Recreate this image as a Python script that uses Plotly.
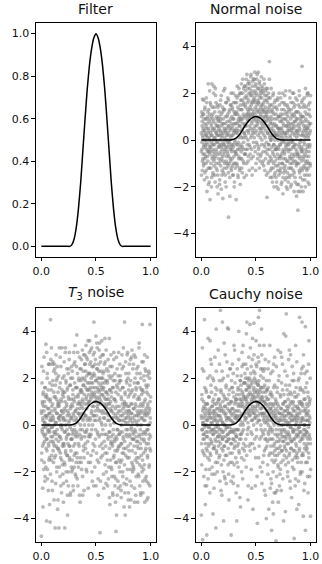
import numpy as np
import plotly.graph_objects as go

# Filter curve
filter_x = [0.00, 0.02, 0.04, 0.06, 0.08, 0.10, 0.12, 0.14, 0.16, 0.18, 0.20, 0.22, 0.24, 0.26,
            0.28, 0.30, 0.32, 0.34, 0.36, 0.38, 0.40, 0.42, 0.44, 0.46, 0.48, 0.50,
            0.52, 0.54, 0.56, 0.58, 0.60, 0.62, 0.64, 0.66, 0.68, 0.70, 0.72,
            0.74, 0.76, 0.78, 0.80, 0.82, 0.84, 0.86, 0.88, 0.90, 0.92, 0.94, 0.96, 0.98, 1.00]
filter_y = [0, 0, 0, 0, 0, 0, 0, 0, 0, 0, 0, 0, 0, 0,
            0.008, 0.035, 0.09, 0.18, 0.30, 0.45, 0.60, 0.74, 0.85, 0.93, 0.98, 1.0,
            0.98, 0.93, 0.85, 0.74, 0.60, 0.45, 0.30, 0.18, 0.09, 0.035, 0.008,
            0, 0, 0, 0, 0, 0, 0, 0, 0, 0, 0, 0, 0, 0]

# Noisy observations (filter + noise), each list ordered along x from 0 to 1
normal_y_a = [
    0.3, -1.5, 1.2, -0.4, 0.8, -0.9, 1.75, 0.1, -0.6, 0.5, -1.1, 1.1, -0.2, 0.9, -1.7, 0.4, -0.8, 1.4, 0.0, -0.3,
    -0.7, 0.6, -1.3, 0.2, 1.6, -0.1, -2.2, 0.7, -0.5, 1.0, -0.9, 0.3, -1.9, 0.5, 1.3, -0.4, 0.1, -1.2, 2.1, -0.6,
    -2.55, 0.9, -0.3, 1.5, -1.0, 0.2, 0.6, -1.6, 2.4, -0.2, 0.4, -0.7, 1.1, -1.4, 0.0, 0.8, -0.5, 2.3, -1.1, 0.5,
    1.4, -0.8, 0.1, -1.8, 0.7, 1.9, -0.4, 0.3, -1.2, 1.0, -0.1, 0.6, -2.0, 0.2, 1.5, -0.6, -1.5, 0.9, -0.3, 0.4,
    -1.0, 0.5, 1.2, -0.2, -1.7, 0.8, 0.0, -0.9, 1.7, -0.5, 0.3, -2.1, 1.1, -0.3, 0.6, -1.3, 0.2, 1.4, -0.7, -0.1,
    0.9, -1.4, 2.1, -0.6, 0.4, -0.2, 1.3, -1.0, 0.1, -1.8, 0.7, -0.4, 1.6, 0.3, -0.9, 0.5, -1.2, 0.0, 1.0, -0.5,
    -0.3, 1.8, -1.1, 0.6, -3.3, 0.2, -0.7, 1.2, -0.1, 0.8, -1.6, 0.4, -0.4, 1.5, -0.9, 0.1, 2.0, -1.3, 0.7, -0.2,
    0.5, -0.8, 1.3, -1.5, 0.2, 0.9, -0.3, 1.6, -1.0, 0.4, -2.0, 0.7, -0.5, 1.1, 0.0, -1.2, 1.9, -0.6, 0.3, -2.55,
    1.2, -0.6, 0.4, 1.8, -1.1, 0.7, -0.2, 1.4, -1.6, 0.9, 0.1, -0.8, 2.2, -0.4, 0.6, -1.3, 1.0, 0.2, -1.9, 1.5,
    0.8, 2.0, -0.5, 1.3, 0.1, -1.2, 1.7, 0.5, -0.3, 2.6, 0.9, -0.9, 1.1, -0.1, 1.6, 0.3, -1.6, 2.3, 0.6, -0.6,
    1.5, 0.2, 2.1, -0.4, 1.0, 2.6, 0.6, -1.0, 1.8, 0.9, -0.2, 1.3, 2.4, 0.0, 1.1, -0.7, 1.7, 0.4, 2.0, -1.3,
    0.9, 2.2, 1.4, -0.3, 1.9, 0.5, 2.7, 1.1, -0.8, 1.6, 0.2, 2.1, 0.8, -1.2, 1.3, 2.5, 0.3, 1.7, -0.1, 1.0,
    1.2, 2.0, 0.1, 1.7, 2.9, 0.6, -0.5, 1.4, 2.3, 0.9, -1.0, 1.9, 0.4, 2.6, 1.0, -0.2, 1.5, 0.7, 2.2, -0.6,
    2.9, 0.8, 1.6, -0.3, 1.2, 2.4, 0.3, 1.9, -0.9, 1.0, 2.1, 0.5, 1.4, -0.6, 2.7, 0.7, 1.8, 0.0, 1.3, 2.2,
    0.6, 1.5, -0.5, 2.0, 0.9, -1.1, 1.3, 0.2, 2.4, 0.7, -0.3, 1.7, 1.0, -0.8, 2.1, 0.4, 1.2, -1.5, 0.8, 1.9,
    -2.45, 0.9, 1.6, -0.4, 0.3, 1.2, -1.0, 2.0, 0.5, -0.2, 1.4, 3.35, 0.1, -0.7, 1.8, 0.7, -1.3, 1.0, 0.0, 2.2,
    0.4, -0.9, 1.3, -1.6, 0.7, 0.1, -0.5, 1.9, -1.2, 0.6, -0.2, 1.1, -2.0, 0.3, 1.6, -0.7, 0.9, -1.4, 0.2, -0.4,
    -1.1, 0.6, -0.3, 1.4, -1.8, 0.2, 0.9, -0.6, 1.7, -1.3, 0.0, 0.5, -2.1, 1.0, -0.4, 0.3, -1.0, 1.5, -0.2, 0.8,
    0.5, -1.4, 1.1, -0.7, 0.2, -1.9, 0.8, -0.1, 1.6, -1.0, 0.4, -0.5, 2.0, -1.6, 0.7, 0.0, -0.8, 1.3, -1.2, 0.3,
    -0.6, 1.9, -1.1, 0.3, -1.7, 0.9, -0.3, 1.2, -2.0, 0.6, -0.9, 0.1, 1.5, -1.4, 0.4, -0.2, 1.0, -1.8, 0.7, -0.5,
    1.3, -0.4, 0.6, -1.5, 2.1, -0.8, 0.2, -1.2, 0.9, -0.1, 1.6, -1.9, 0.4, -0.6, 1.1, -1.0, 0.0, 2.0, -0.3, 0.7,
    -1.3, 0.5, -0.7, 1.4, -2.2, 0.8, -0.2, 1.0, -1.6, 0.3, -0.9, 1.8, -0.4, 0.6, -1.1, 0.1, 1.2, -1.9, 0.4, -0.6,
    0.9, -3.0, -2.2, 0.2, 1.5, -1.0, 0.6, -0.3, 1.9, -1.4, 0.4, -0.7, -2.2, 1.1, 0.0, -1.2, 0.8, -0.5, 1.6, -0.9,
    3.15, -0.4, 1.0, -1.7, 0.3, -0.8, 1.4, -1.2, 0.6, -0.1, 1.8, -1.5, 0.5, -0.6, 1.2, -2.0, 0.2, 0.9, -1.0, 0.4,
    -0.7, 1.1, -1.3, 0.5, 2.0, -0.3, 0.8, -1.8, 0.1, 1.5, -1.0, 0.6, -0.5, 1.3, -1.5, 0.3, -0.2, 1.0, -1.1, 0.7,
]
normal_y_b = [
    -0.5, 1.0, -0.1, 0.6, -1.3, 0.2, 1.1, -0.8, 0.4, -0.3, 1.7, -1.0, 0.0, 0.7, -0.6, 1.3, -1.4, 0.3, -0.2, 0.9,
    0.2, -1.0, 1.8, -0.4, 0.5, -1.6, 0.9, 0.1, -0.7, 1.2, -0.2, 2.4, -1.2, 0.4, -0.5, 0.8, -1.8, 0.0, 1.1, -0.3,
    1.6, -0.5, 0.3, -1.2, 0.7, -0.1, -2.0, 1.0, 0.2, -0.8, 1.4, -0.4, 0.5, -1.5, 0.9, -0.2, 2.0, -0.9, 0.1, -0.6,
    -0.2, 1.2, -1.5, 0.4, 2.2, -0.7, 0.0, 1.6, -1.0, 0.3, -0.5, 0.9, -1.3, 0.6, -0.1, 1.4, -2.3, 0.2, 0.8, -0.8,
    0.6, -0.3, 1.0, -1.9, 0.2, 1.5, -0.6, 0.4, -1.1, 0.9, -0.2, 1.9, -0.8, 0.1, -1.5, 0.7, -0.4, 1.2, -2.5, 0.3,
    -0.9, 0.7, -0.2, 1.3, -1.2, 0.5, -0.5, 2.2, 0.0, -1.5, 1.0, -0.3, 0.4, -2.0, 1.6, -0.7, 0.2, -1.0, 0.8, -0.1,
    1.1, -0.6, 0.3, -1.4, 1.7, -0.2, 0.6, -1.0, 0.0, 1.3, -2.4, 0.5, -0.8, 0.9, -0.3, 1.5, -1.2, 0.2, -0.5, 1.0,
    -0.4, 1.4, -1.1, 0.6, -0.2, 2.0, -1.5, 0.3, 0.9, -0.7, 1.2, -1.8, 0.4, -0.1, 1.6, -1.0, 0.7, -0.5, 1.1, -0.2,
    0.5, 1.6, -1.0, 0.3, 2.3, -0.4, 1.1, -1.5, 0.8, -0.1, 1.9, -0.7, 0.4, 1.3, -1.2, 0.6, 2.0, -0.3, 0.9, -0.8,
    1.7, -0.2, 0.9, 2.4, -0.8, 1.3, 0.4, -1.4, 2.0, 0.7, -0.4, 1.5, 0.1, 2.2, -1.0, 1.0, 0.3, -0.6, 1.8, 0.6,
    0.7, 2.3, -0.6, 1.4, 0.1, 1.9, -1.5, 1.1, 2.8, 0.4, -0.4, 1.6, 0.8, 2.2, -0.9, 1.2, 0.3, 2.5, 1.0, -0.2,
    2.4, 0.6, 1.3, -0.6, 2.0, 1.0, 0.1, 2.8, 1.5, -0.4, 0.7, 1.9, -1.5, 1.1, 2.3, 0.4, 1.6, -0.7, 2.6, 0.9,
    0.5, 1.8, 2.6, -0.3, 1.1, 2.1, 0.3, 1.6, -1.3, 2.4, 0.8, 1.3, -0.1, 2.0, 0.6, 2.8, 1.2, -0.8, 1.7, 0.2,
    1.6, -0.4, 2.2, 0.9, 1.3, -1.2, 2.5, 0.5, 1.8, 0.1, -0.7, 1.1, 2.0, 0.4, 1.5, -0.2, 2.3, 0.8, -1.0, 1.2,
    2.1, 0.3, 1.0, -0.9, 1.6, 0.5, 2.6, -0.2, 1.2, 0.8, -1.3, 1.9, 0.1, 1.4, -0.5, 2.2, 0.6, 1.1, -0.1, 1.7,
    1.0, -0.6, 2.2, 0.3, -1.4, 1.3, 0.6, -0.2, 1.8, -0.9, 0.9, 2.6, -0.4, 0.2, 1.5, -1.6, 0.8, 0.0, 1.2, -0.8,
    -1.2, 0.5, 1.5, -0.3, 0.9, -1.8, 0.2, 1.2, -0.6, 2.0, -1.0, 0.4, -0.2, 1.4, -1.5, 0.7, 0.0, -0.9, 1.7, -0.4,
    0.3, -1.6, 1.1, -0.4, 0.6, -2.0, 1.3, -0.8, 0.2, 1.8, -1.1, 0.5, -0.3, 1.0, -1.5, 0.4, 2.0, -0.7, 0.1, -1.3,
    -0.8, 1.0, -0.2, 1.8, -1.2, 0.5, -0.6, 1.3, -1.8, 0.3, 0.9, -1.0, 0.1, -2.3, 1.1, -0.4, 0.6, -1.4, 1.6, -0.1,
    0.9, -0.5, 1.5, -1.3, 0.2, -0.8, 2.1, -0.2, 0.6, -1.6, 1.1, -0.4, 0.3, -2.1, 0.8, -0.9, 1.4, -0.1, -1.2, 0.5,
    -0.2, 1.2, -1.6, 0.4, -0.7, 1.8, -1.0, 0.1, -2.0, 0.7, -0.4, 1.3, -1.2, 0.5, -0.8, 1.0, -1.5, 0.3, -0.1, 1.6,
    0.6, -0.9, 2.0, -0.3, 1.1, -1.4, 0.2, -0.6, 1.5, -1.8, 0.8, -0.2, 1.2, -1.0, 0.4, -2.4, 0.9, -0.5, 1.7, -0.7,
    -1.0, 0.3, -0.6, 1.2, -1.9, 0.7, -0.2, 2.1, -1.3, 0.5, -0.8, 1.4, -0.1, -1.6, 0.9, -0.4, 1.0, -2.0, 0.2, -0.3,
    0.7, -1.3, 1.7, -0.5, 0.2, -2.2, 1.0, -0.7, 0.4, -1.1, 1.5, -0.2, 0.8, -1.7, 0.1, -0.9, 2.2, -0.4, 0.6, -1.2,
    1.4, -0.5, 0.3, -1.5, 1.9, -0.9, 0.5, -0.2, 2.0, -1.2, 0.2, -0.7, 1.1, -1.9, 0.7, -0.3, 1.6, -1.0, 0.4, 1.9,
]

t3_y_a = [
    -4.75, 0.5, -1.2, 1.8, -0.3, 0.9, -2.7, 0.2, 1.3, -0.8, 2.3, -0.1, 0.6, -1.6, 1.0, -0.5, 0.1, -2.2, 1.6, -0.4,
    0.8, 3.45, -1.0, 0.3, -4.1, 1.2, -0.6, 2.0, -1.9, 0.4, -0.2, 1.5, -2.8, 0.7, -0.9, 0.0, 2.6, -1.4, 0.5, -0.3,
    -4.15, 1.1, 4.5, -0.7, 0.2, -1.5, 3.3, 0.6, -0.1, -2.4, 1.7, -0.5, 0.9, 2.7, -1.1, 0.3, -0.8, 1.4, -3.2, 0.0,
    2.6, -0.4, 0.7, -4.4, 1.2, -1.3, 2.2, 0.1, -0.6, 1.9, -2.0, 0.5, -0.2, 2.5, -1.0, 0.8, -3.2, 1.0, -0.7, 0.3,
    -4.4, 0.9, -1.8, 1.6, 0.2, -0.5, 2.9, -1.2, 0.4, -2.6, 1.1, -0.1, 0.6, -1.5, 3.3, 0.0, -0.9, 1.3, -2.1, 0.5,
    1.4, -3.3, 0.3, -0.8, 2.1, -1.6, 0.7, -4.4, 1.0, -0.3, 3.3, -1.1, 0.2, 1.8, -0.6, -2.4, 0.9, -0.2, 1.5, -1.3,
    -3.85, 0.6, -0.4, 1.2, -2.0, 0.1, 2.4, -0.9, 3.1, -1.4, 0.4, -0.1, 1.7, -2.9, 0.8, -0.6, 1.1, -1.8, 0.3, -0.2,
    0.9, -1.5, 2.0, -0.4, 1.3, -2.6, 0.5, -0.9, 3.1, 0.2, -1.8, 1.0, -0.2, 2.7, -1.2, 0.6, -0.5, 1.6, -2.2, 0.3,
    1.6, -0.3, 3.85, 0.7, -1.4, 2.2, 0.1, -2.6, 1.2, 0.5, -0.8, 1.9, -1.6, 0.9, 2.9, -0.4, 0.4, -3.3, 1.4, 0.0,
    0.9, 2.4, -0.6, 1.5, -1.9, 0.5, 2.0, -0.2, 1.1, -3.0, 0.7, 1.7, -0.9, 3.0, 0.3, -1.4, 1.3, 0.0, 2.6, -0.5,
    1.9, 0.4, -1.0, 2.3, 1.1, -0.3, 2.9, 0.7, -2.0, 1.5, 0.2, 1.8, -0.7, 3.6, 0.9, -1.6, 1.3, 0.0, 2.2, -0.4,
    1.0, 2.6, -0.5, 1.6, 0.3, 3.2, 1.2, -1.3, 2.0, 0.6, -0.2, 1.4, 2.5, -2.4, 0.8, 1.8, -0.8, 3.0, 0.4, 1.2,
    4.4, 1.3, 0.2, 2.1, -0.9, 1.6, 0.6, 2.8, -0.2, 1.0, -2.6, 1.9, 0.4, 3.5, 1.1, -1.5, 2.4, 0.7, -0.4, 1.5,
    -3.0, 1.8, 0.6, 2.3, -0.5, 1.2, 3.5, 0.3, -4.6, 1.5, 0.9, 2.7, -1.4, 1.0, 0.1, 2.0, -0.8, 1.6, 3.0, 0.5,
    1.3, -0.2, 2.2, 0.6, -2.1, 1.6, 0.9, -0.7, 2.6, 0.3, 3.7, -1.2, 1.1, 0.0, 1.9, -2.5, 0.8, -0.4, 1.4, 2.4,
    0.7, -1.5, 1.8, 0.2, -0.6, 2.3, -2.3, 1.1, 0.4, -0.3, 3.7, -1.0, 0.9, -3.4, 1.5, 0.0, 2.0, -0.8, 0.6, -1.8,
    -0.5, 1.4, -2.2, 0.3, 2.1, -0.9, 0.8, -3.0, 1.6, -0.2, 0.5, 2.8, -1.3, 0.1, 1.1, -0.7, -2.6, 1.9, 0.4, -1.6,
    1.0, -4.55, 0.3, -3.85, 1.7, -0.6, 2.4, -1.1, 0.5, -0.2, -2.4, 1.3, -0.9, 3.1, 0.2, -1.5, 0.8, -0.4, 1.9, -2.0,
    -0.3, 2.1, -1.6, 0.6, -2.8, 1.2, 0.0, -0.8, 3.0, -1.2, 0.4, 1.6, -2.2, 0.7, -0.5, 2.5, -1.0, 0.2, -3.5, 1.0,
    4.4, -0.7, 1.4, -3.85, 0.3, -1.3, 2.2, -0.2, 0.9, -2.55, 1.8, -0.5, 0.5, -1.9, 3.1, 0.1, -0.9, 1.2, -2.9, 0.6,
    -1.1, 0.8, 2.6, -0.4, 1.3, -2.4, 0.2, -0.8, 1.9, -3.2, 0.5, -0.1, 2.9, -1.6, 0.9, -0.6, 1.5, -2.0, 0.3, -0.3,
    0.7, -1.8, 1.2, -0.6, 3.0, -2.7, 0.4, -0.2, 2.0, -1.2, 0.9, -3.0, 1.6, -0.5, 0.1, 2.4, -1.4, 0.6, -0.9, 1.1,
    -3.3, 0.5, 1.8, -1.0, 0.2, -2.2, 3.3, -0.4, 1.1, -1.7, 0.6, 2.2, -0.8, -2.9, 0.9, 0.0, -1.3, 1.5, -0.6, 2.7,
    0.3, 4.3, -1.5, 0.8, -2.4, 1.4, -0.3, -1.9, 2.1, 0.5, -0.7, 1.0, -3.3, 0.2, 2.4, -1.1, 0.6, -0.4, 1.7, -2.2,
    -0.8, 1.6, -3.2, 0.4, 2.1, -1.4, 0.9, -0.2, 1.3, -2.5, 0.5, -0.6, 2.2, -1.7, 0.7, -1.0, 4.3, 0.1, -0.5, 1.2,
]
t3_y_b = [
    0.6, -1.5, 2.5, -0.2, 1.0, -0.9, 0.3, -3.5, 1.4, -0.4, 0.8, -1.9, 2.9, 0.1, -0.7, 1.6, -2.4, 0.4, -0.1, 1.2,
    -1.8, 0.4, 1.3, -0.6, 3.1, -1.1, 0.0, 2.2, -2.3, 0.7, -0.3, 1.1, -0.8, 2.6, -1.5, 0.5, -0.2, -3.4, 1.8, 0.2,
    1.0, -2.1, 0.3, 2.8, -0.5, 1.5, -1.3, 0.8, -0.1, 2.6, -2.8, 0.4, 1.9, -0.7, 0.2, -1.6, 2.3, -0.3, 1.2, -0.9,
    -1.4, 2.4, 0.6, -0.3, 1.7, -2.5, 0.1, 3.0, -0.9, 1.1, -1.8, 0.5, 2.0, -0.4, -3.6, 0.9, 1.4, -1.0, 0.3, 2.1,
    0.8, -1.1, 3.3, -0.5, 0.4, -2.2, 1.8, 0.0, -1.4, 2.5, -0.6, 1.0, -2.9, 0.6, 1.5, -0.2, -1.7, 2.0, 0.3, -0.8,
    -2.5, 1.2, 0.2, -0.9, 2.7, -0.3, 1.4, -1.7, 0.6, 3.1, -1.2, 0.0, 1.9, -2.0, 0.8, -0.5, 2.4, -1.3, 0.4, -3.0,
    1.6, -0.8, 2.2, -2.6, 0.5, 1.1, -0.4, 2.8, -1.5, 0.2, -0.9, 1.7, -3.0, 0.7, 2.0, -1.1, 0.3, -0.6, 2.5, -2.0,
    -0.6, 2.3, -1.9, 0.8, 1.5, -0.3, -2.8, 1.1, 0.4, 2.6, -1.3, 0.0, 1.8, -0.8, 3.4, -2.1, 0.6, 1.2, -0.4, -1.6,
    2.5, 0.2, -1.2, 1.6, -2.3, 0.9, 3.1, -0.5, 1.3, -1.8, 0.5, 2.0, -0.9, 1.0, -3.0, 0.7, 2.4, -0.2, 1.5, -1.4,
    0.3, 1.9, -1.6, 2.8, 0.8, -0.5, 1.4, 3.2, -2.2, 1.0, 0.2, 2.3, -1.1, 1.7, 0.5, -2.8, 2.0, 0.9, -0.3, 3.0,
    2.6, -0.8, 1.6, 0.4, 3.4, -1.9, 1.2, 2.1, -0.2, 0.9, 2.8, -1.2, 1.5, 0.3, -2.7, 2.2, 1.0, -0.5, 1.8, 3.1,
    1.5, 3.6, 0.2, 2.2, -1.6, 1.1, 2.7, -0.4, 1.8, 0.5, 3.3, -2.0, 1.3, 2.1, 0.0, 1.6, -1.1, 2.5, 0.8, -2.6,
    2.2, 0.4, 3.1, 1.0, -1.8, 2.6, 1.4, -0.6, 1.9, 3.8, 0.2, 1.2, -1.2, 2.4, 0.8, 3.3, -0.3, 1.6, 2.0, -2.3,
    0.9, 2.6, -1.6, 1.4, 3.2, 0.2, 2.0, -0.9, 1.1, 2.9, -2.4, 1.7, 0.6, 2.3, -0.4, 1.3, 3.6, 0.0, 1.8, -1.3,
    2.0, -1.0, 1.5, 3.0, 0.3, -2.7, 1.2, 2.3, -0.4, 0.8, 1.8, -1.7, 2.7, 0.5, -0.9, 1.4, 3.2, -2.0, 0.9, 1.1,
    -1.2, 1.9, 0.5, -2.6, 1.3, 2.8, -0.5, 0.9, -1.8, 2.1, 0.2, -3.1, 1.5, -0.3, 2.5, 0.7, -1.5, 1.0, 3.0, -0.7,
    1.2, -1.9, 0.6, 2.5, -0.8, 1.6, -2.9, 0.3, -0.4, 1.9, -1.4, 3.1, 0.1, -2.2, 1.1, -0.6, 2.2, -1.1, 0.7, -3.3,
    -2.3, 1.4, -0.5, 2.9, -1.6, 0.8, -0.2, -3.0, 1.6, 0.3, -1.0, 2.1, -2.7, 0.6, -0.4, 1.8, -1.8, 0.2, 2.6, -0.9,
    1.5, -2.6, 0.4, 1.9, -0.8, -3.1, 1.1, 0.2, -1.5, 2.4, -0.3, 0.9, -2.0, 1.6, -0.6, 3.3, -1.2, 0.5, -2.5, 0.8,
    -1.7, 0.9, -2.9, 1.3, 0.1, 2.7, -1.0, 0.6, -0.4, 1.9, -2.3, 0.3, 3.0, -1.4, 0.8, -0.2, 2.0, -3.2, 0.4, 1.5,
    2.2, -1.4, 0.6, -3.5, 1.7, -0.5, 0.3, 2.8, -1.9, 0.9, -0.2, 1.4, -2.6, 0.5, 3.2, -1.1, 0.1, -1.7, 2.4, -0.6,
    -0.4, 2.6, -1.9, 0.7, -0.9, 1.8, -3.3, 0.2, 1.3, -1.5, 2.9, -0.3, 0.8, -2.2, 1.5, -0.7, 0.4, 2.2, -1.6, 0.0,
    1.8, -0.7, 2.5, -2.1, 0.4, 1.2, -1.4, 3.5, -0.5, 0.8, -2.6, 1.6, -0.2, 0.5, -3.0, 2.0, -1.0, 0.3, 1.3, -1.8,
    -2.0, 0.6, -0.4, 1.5, -2.9, 0.9, 2.7, -1.2, 0.2, -0.6, 1.9, -1.7, 3.0, 0.4, -2.3, 1.1, -0.3, 2.3, -1.0, 0.7,
    0.5, -2.4, 1.4, -0.2, 2.9, -1.3, 0.8, -3.1, 1.7, 0.0, -0.8, 2.3, -1.8, 0.6, -0.4, 2.0, -2.6, 1.0, 0.3, -1.1,
]

cauchy_y_a = [
    -3.85, 0.3, -1.7, 1.1, -0.2, 3.3, -4.9, 0.6, -0.6, 0.1, -1.2, 2.3, -0.4, 0.8, -9.5, -0.1, 1.6, -2.6, 0.4, -0.8,
    0.7, -1.9, 0.0, 1.4, -0.5, -4.7, 0.9, -1.1, 0.2, 2.0, -0.3, -2.3, 12.0, 0.5, -0.9, 1.2, -0.1, -1.5, 0.6, -2.9,
    3.6, -0.6, 0.3, -1.3, 1.7, -0.2, 2.6, -0.8, 0.8, -2.1, 0.1, -6.8, 1.0, -0.4, 0.5, -1.0, 1.9, -0.2, -2.7, 0.4,
    -0.9, 0.6, 2.9, -0.3, 1.3, -1.6, 0.2, -0.7, 4.1, 0.9, -1.2, 0.0, 1.5, -2.0, 0.4, -0.5, -8.0, 0.7, -0.1, 1.1,
    0.2, -1.4, 1.9, -0.4, 0.6, -2.4, 0.9, 4.9, -0.8, 0.3, 1.4, -0.2, -1.7, 0.7, -3.0, 2.3, -0.6, 0.1, 1.0, -1.1,
    -0.3, 2.0, -4.1, 0.5, -0.9, 1.2, -2.2, 0.0, 0.8, 3.0, -1.3, 0.4, -0.5, 1.6, -2.5, 0.2, -0.1, 7.5, -0.7, 1.1,
    4.15, -0.4, 0.9, -1.0, 4.1, -2.1, 0.3, -0.6, 1.5, -0.1, 2.4, -1.6, 0.6, -15.0, -0.3, 1.0, -2.4, 0.2, 1.9, -0.8,
    0.4, -1.2, 1.6, -0.3, 0.7, -2.2, 2.2, -0.6, 0.1, 1.2, -1.7, -0.2, 3.2, -0.9, 0.6, -5.8, 1.0, -0.4, 0.3, -2.9,
    1.1, -0.5, -4.1, 0.6, 2.1, -0.9, 0.2, 1.5, -1.8, 0.8, -0.2, 2.8, -1.1, 0.4, 1.3, -0.6, -3.1, 0.9, 0.0, 1.9,
    0.8, 1.7, -0.4, 1.1, -2.0, 0.5, 2.5, 0.1, 1.4, -1.0, 0.9, 3.4, -0.2, 1.2, 0.4, -1.5, 1.8, -8.2, 0.7, 2.2,
    1.2, 0.3, 2.0, -0.6, 1.5, 0.8, 3.9, -1.3, 1.0, 0.5, 2.4, -0.2, 1.7, 0.1, -2.6, 1.3, 0.6, 1.9, -0.9, 9.0,
    0.9, 1.6, 4.3, 0.4, -0.8, 1.3, 2.2, 0.6, -1.9, 1.0, 0.2, 1.8, -0.4, 2.8, 0.8, 1.2, -3.6, 0.5, 1.5, 0.0,
    4.35, 1.1, 0.5, 2.0, -0.6, 1.4, 0.8, 1.8, -1.4, 0.3, 2.6, 1.0, -0.2, 1.5, 0.6, -2.2, 1.2, 20.0, 0.9, 1.7,
    1.3, 4.6, 0.2, 1.9, -0.9, 0.9, 4.9, 1.5, 0.5, -1.8, 1.1, 2.4, 0.0, 1.6, -0.5, 0.7, 3.0, -2.5, 1.0, 0.4,
    0.8, -0.3, 1.4, 2.3, 0.2, -1.3, 1.0, 0.5, -2.8, 1.7, 0.1, -0.6, 2.8, 0.9, -1.0, 0.4, 1.2, -4.0, 0.6, 1.5,
    0.2, 1.1, -0.7, 0.6, -2.1, 1.6, 0.0, -0.4, 2.7, -1.3, 0.9, -11.0, 0.4, -0.2, 1.3, -2.7, 0.7, 2.2, -0.9, 0.3,
    -0.6, -4.5, 0.5, -1.5, 1.2, -0.2, -3.3, 0.8, -2.0, 0.1, 2.6, -0.9, 0.6, -2.9, 0.3, 1.7, -1.1, -0.4, 0.9, -2.9,
    0.4, -4.95, 1.0, -0.7, -2.2, 0.2, 1.6, -1.3, 0.6, -0.4, 3.2, -1.8, 0.0, 0.8, -1.0, 2.1, -0.2, -2.6, 0.5, -0.6,
    1.3, -0.9, 3.1, 0.2, -1.6, 0.7, -0.3, 2.9, -1.1, 0.4, -0.5, 1.5, -2.3, 0.0, 0.9, -7.0, -0.7, 3.9, 0.3, -1.3,
    -0.2, 1.0, -1.0, 0.6, -3.7, 0.1, 1.7, -0.5, 4.75, -1.4, 0.4, -0.8, 2.1, 0.0, -2.0, 0.7, -0.3, 1.3, -1.6, 0.5,
    0.8, -0.4, 3.2, -1.2, 0.3, -0.6, 1.4, -2.7, 0.5, -0.1, 1.0, -1.0, 6.5, 0.2, -0.7, 2.5, -1.8, 0.4, -0.2, 0.9,
    -1.1, 0.6, -0.3, 1.9, -4.85, 0.2, -0.6, 1.2, -1.4, 0.8, -2.3, 0.3, -0.5, 1.6, -0.9, 0.1, 2.7, -1.2, 0.5, -0.2,
    0.4, -1.6, 1.3, -0.4, 0.7, -3.4, 2.0, -0.1, -1.0, 0.9, -0.3, 1.5, -2.1, 0.6, -9.0, 1.0, -0.6, 0.2, 2.4, -1.3,
    4.4, -0.5, 0.9, -1.2, 0.3, 2.5, -3.9, 0.6, -0.2, 1.4, -0.8, 0.0, -2.5, 1.1, -0.4, 4.2, 0.7, -1.6, 0.2, -0.9,
    0.5, -0.3, 1.8, -1.0, 0.2, -2.2, 0.8, -0.6, 1.2, -0.1, 2.6, -1.4, 0.4, -0.5, 1.0, -8.5, 0.3, 2.0, -0.8, -1.9,
]
cauchy_y_b = [
    0.4, -0.8, 1.3, -0.2, 2.4, -1.1, 0.1, -6.2, 0.7, -0.4, 1.0, -2.2, 0.3, -0.6, 4.5, -1.3, 0.5, 0.0, -3.4, 0.9,
    -0.3, 1.5, -1.0, 0.2, -2.6, 0.6, 11.0, -0.5, 0.9, -1.4, 0.3, 3.7, -0.1, -0.8, 1.2, -7.4, 0.4, -1.9, 0.7, 2.1,
    -1.2, 0.5, 2.8, -0.3, 0.1, -5.5, 1.4, -0.7, 0.3, -1.8, 0.8, -0.2, 2.0, -3.8, 0.6, -0.4, 1.1, 16.0, -1.0, 0.2,
    0.9, -2.1, 0.3, -0.6, 1.6, -0.1, -4.4, 0.5, 2.3, -1.1, 0.7, -0.3, 8.3, 0.1, -1.6, 1.0, -0.5, 3.2, -0.9, 0.4,
    -0.7, 1.1, -0.2, 2.6, -1.3, 0.4, -6.5, 0.8, -0.5, 1.5, -2.8, 0.2, 0.6, -1.0, 1.9, -0.3, 4.4, -0.6, 0.1, -2.0,
    1.3, -0.5, 0.6, -1.5, 3.5, 0.0, -0.9, 0.8, -2.3, 1.1, -0.2, -9.0, 0.5, 1.7, -0.7, 0.3, -1.3, 2.7, -0.1, 0.7,
    -0.4, 2.1, -1.7, 0.3, -0.6, 1.3, -3.2, 0.6, 5.6, -0.3, 0.9, -1.2, 0.2, 2.4, -0.8, 0.5, -4.7, 1.0, -0.2, 1.6,
    0.7, -1.6, 2.6, 0.1, -0.6, 1.4, -2.5, 0.5, -0.3, 3.4, -1.0, 0.9, -6.0, 0.3, 1.8, -0.7, 0.4, -1.4, 1.1, -0.2,
    -0.5, 1.3, 0.4, -1.6, 2.4, -0.2, 0.9, -2.6, 1.6, 0.3, -0.8, 4.0, 0.6, -1.2, 1.1, -13.0, 0.2, 1.9, -0.4, -3.5,
    1.5, -0.6, 2.1, 0.4, -1.4, 1.0, 3.1, -0.3, 0.8, -2.3, 1.3, 0.0, 2.6, -0.8, 1.8, 6.4, 0.5, -1.1, 1.1, 0.2,
    0.6, 1.8, -0.9, 2.6, 1.1, -1.8, 0.3, 1.5, 4.4, 0.9, -0.4, 2.0, 1.2, -3.2, 0.7, 1.6, -0.1, 2.9, 0.4, -10.0,
    2.0, 0.5, 1.4, -1.1, 3.3, 0.9, 1.7, -0.3, 2.5, 1.1, -2.7, 0.7, 1.9, 0.2, 3.7, -0.8, 1.3, 7.2, 0.6, 2.3,
    1.6, 3.0, 0.3, -1.0, 1.2, 2.2, 0.7, -2.6, 1.9, 0.4, 3.6, 1.0, -0.5, 2.5, 1.4, 0.1, -4.2, 1.8, 0.8, 2.9,
    0.4, 1.7, -1.4, 2.7, 1.0, 0.2, 3.4, -0.6, 1.4, 0.7, -12.0, 2.1, 1.2, -0.2, 1.6, 4.1, 0.5, -2.0, 1.1, 2.4,
    1.2, -1.6, 0.5, 2.0, -0.4, 1.6, 3.4, 0.3, -1.1, 1.0, 2.4, -0.2, 0.7, -3.0, 1.4, 0.9, -0.6, 1.9, 6.0, 0.1,
    -0.9, 1.5, 0.3, -1.7, 0.8, 2.4, -0.3, 1.1, -3.6, 0.5, 1.9, -0.6, 0.2, 3.4, -1.2, 0.7, -0.1, 1.4, -2.3, 0.9,
    0.6, -2.5, 1.3, -0.3, 0.2, -1.2, 2.3, -0.6, 0.9, -3.8, 0.4, 1.6, -1.6, 0.0, -0.8, 2.9, -1.3, 0.5, -5.2, 1.1,
    -1.5, 0.7, -0.2, 2.5, -1.0, 0.3, -2.8, 1.4, -0.5, 0.9, -1.7, 0.1, -3.3, 1.9, -0.7, 0.5, -1.2, 8.4, 0.2, -2.1,
    0.3, -1.9, 1.2, -0.4, 0.7, -2.8, 0.0, 1.8, -1.1, 0.5, -0.2, 2.6, -0.7, 0.9, -1.5, 0.2, -4.1, 1.3, -0.5, 0.6,
    -0.9, 0.4, 2.3, -0.3, 1.0, -1.7, 3.8, -0.6, 0.2, -1.1, 0.8, -9.5, 1.5, -0.4, 0.6, -2.2, 0.1, 1.1, -0.8, 2.8,
    0.5, -1.3, 0.1, 1.7, -0.5, -2.4, 0.9, -0.1, 3.0, -1.0, 0.4, -0.7, 1.3, -3.1, 0.2, 1.9, -1.5, 0.7, -0.3, -5.8,
    1.0, -0.6, 2.2, -1.9, 0.3, -0.2, 1.4, -1.1, 0.6, -2.6, 0.0, 3.4, -0.8, 0.4, -1.3, 1.2, -0.4, -3.6, 0.8, 0.2,
    -1.4, 0.7, -0.5, 1.9, -2.4, 0.3, -0.1, 1.0, -1.1, 4.6, 0.5, -0.7, 1.6, -2.0, 0.1, -0.3, 2.2, -1.6, 0.9, 7.7,
    0.3, -2.0, 1.5, -0.6, 0.8, -1.3, 0.2, 3.0, -0.4, -2.8, 1.1, 0.0, -1.0, 2.2, -0.2, 0.6, -4.5, 1.6, -0.5, 0.4,
    -1.1, 0.9, -0.3, 2.3, -1.6, 0.5, -0.8, 1.4, -2.9, 0.2, 0.6, -1.2, 3.6, -0.4, 0.9, -2.2, 0.1, 1.1, -0.6, -3.9,
]

titles = ["Filter", "Normal noise", "<i>T</i><sub>3</sub> noise", "Cauchy noise"]
noise_sets = [(normal_y_a, normal_y_b), (t3_y_a, t3_y_b), (cauchy_y_a, cauchy_y_b)]

W, H = 322, 564
# panel boxes in pixels (left, right, top, bottom)
boxes = [(33.5, 156, 23, 257), (196.5, 319, 23, 257),
         (33.5, 156, 308, 542), (196.5, 319, 308, 542)]

fig = go.Figure()
layout = dict(width=W, height=H, margin=dict(l=0, r=0, t=0, b=0),
              paper_bgcolor="white", plot_bgcolor="white", showlegend=False,
              font=dict(family="DejaVu Sans", size=11, color="#111"))
annotations = []
axis_common = dict(showgrid=False, zeroline=False, showline=True, mirror=True,
                   linecolor="black", linewidth=0.8, ticks="outside", ticklen=3.5,
                   tickwidth=0.8, tickcolor="black", tickfont=dict(size=11, color="#111"))

for i, (l, r, t, b) in enumerate(boxes):
    k = "" if i == 0 else str(i + 1)
    xa, ya = "x" + k, "y" + k
    layout["xaxis" + k] = dict(domain=[l / W, r / W], anchor=ya, range=[-0.05, 1.05],
                               tickvals=[0, 0.5, 1.0], tickformat=".1f", **axis_common)
    if i == 0:
        layout["yaxis" + k] = dict(domain=[1 - b / H, 1 - t / H], anchor=xa, range=[-0.05, 1.05],
                                   tickvals=[0, 0.2, 0.4, 0.6, 0.8, 1.0], tickformat=".1f", **axis_common)
    else:
        layout["yaxis" + k] = dict(domain=[1 - b / H, 1 - t / H], anchor=xa, range=[-5, 5],
                                   tickvals=[-4, -2, 0, 2, 4], **axis_common)
        ya_vals, yb_vals = noise_sets[i - 1]
        xs = np.concatenate([np.linspace(0, 1, len(ya_vals)), np.linspace(0.001, 0.999, len(yb_vals))])
        ys = list(ya_vals) + list(yb_vals)
        fig.add_trace(go.Scatter(x=xs, y=ys, mode="markers", xaxis=xa, yaxis=ya,
                                 marker=dict(size=3.8, color="rgba(128,128,128,0.55)", line=dict(width=0)),
                                 cliponaxis=True))
    fig.add_trace(go.Scatter(x=filter_x, y=filter_y, mode="lines", xaxis=xa, yaxis=ya,
                             line=dict(color="black", width=1.5, shape="spline", smoothing=0.4)))
    annotations.append(dict(text=titles[i], x=(l + r) / 2 / W, y=1 - (t - 4) / H,
                            xref="paper", yref="paper", xanchor="center", yanchor="bottom",
                            showarrow=False, font=dict(size=14, color="#111", family="DejaVu Sans")))

layout["annotations"] = annotations
fig.update_layout(**layout)
fig.write_html("out.html", config={"responsive": False, "displayModeBar": False},
               post_script="document.body.style.margin='0';document.body.style.overflow='hidden';")
